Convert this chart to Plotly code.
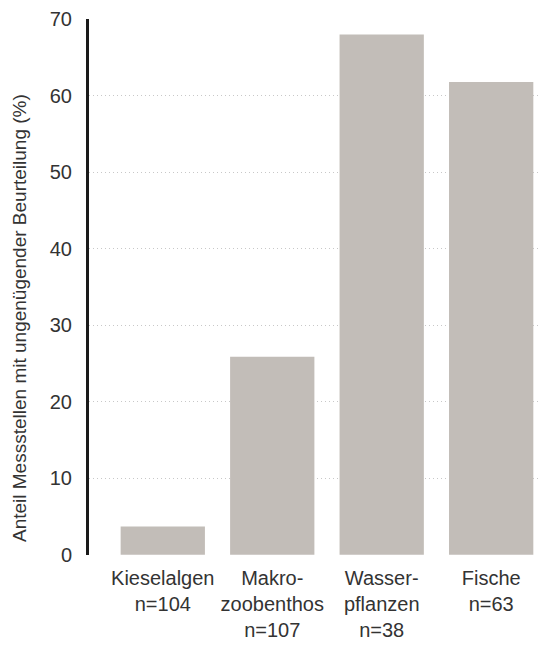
import plotly.graph_objects as go

categories = ['Kieselalgen<br>n=104', 'Makro-<br>zoobenthos<br>n=107',
              'Wasser-<br>pflanzen<br>n=38', 'Fische<br>n=63']
values = [3.7, 25.9, 68.0, 61.8]
y_ticks = [0, 10, 20, 30, 40, 50, 60, 70]
y_title = 'Anteil Messstellen mit ungenügender Beurteilung (%)'

fig = go.Figure(go.Bar(x=categories, y=values, marker_color='#c2bdb8',
                       marker_line_width=0, hoverinfo='skip'))

# page body has an 8px margin, so the figure is a bit smaller than the window
fig.update_layout(
    width=539, height=640,
    margin=dict(l=81, r=0, t=11, b=93),
    paper_bgcolor='white', plot_bgcolor='white',
    font=dict(family='Liberation Sans, Arial, sans-serif', size=20, color='#333'),
    bargap=0.23,
    showlegend=False,
)
fig.update_xaxes(range=[-0.674, 3.51], showgrid=False, showline=False, automargin=False,
                 ticks='', ticklabelstandoff=9, tickfont=dict(size=20))
fig.update_yaxes(range=[-0.02, 70.02], tickvals=y_ticks, showgrid=True, automargin=False,
                 gridcolor='#c8c8c8', griddash='1px,3px', gridwidth=1,
                 zeroline=False, showline=True, linecolor='#1a1a1a', linewidth=3,
                 ticks='', ticklabelstandoff=10, tickfont=dict(size=20))

fig.add_annotation(text=y_title, textangle=-90, showarrow=False,
                   xref='paper', yref='paper', x=-0.153, y=0.442,
                   xanchor='center', yanchor='middle', font=dict(size=19, color='#333'))

fig.write_html('out.html')
